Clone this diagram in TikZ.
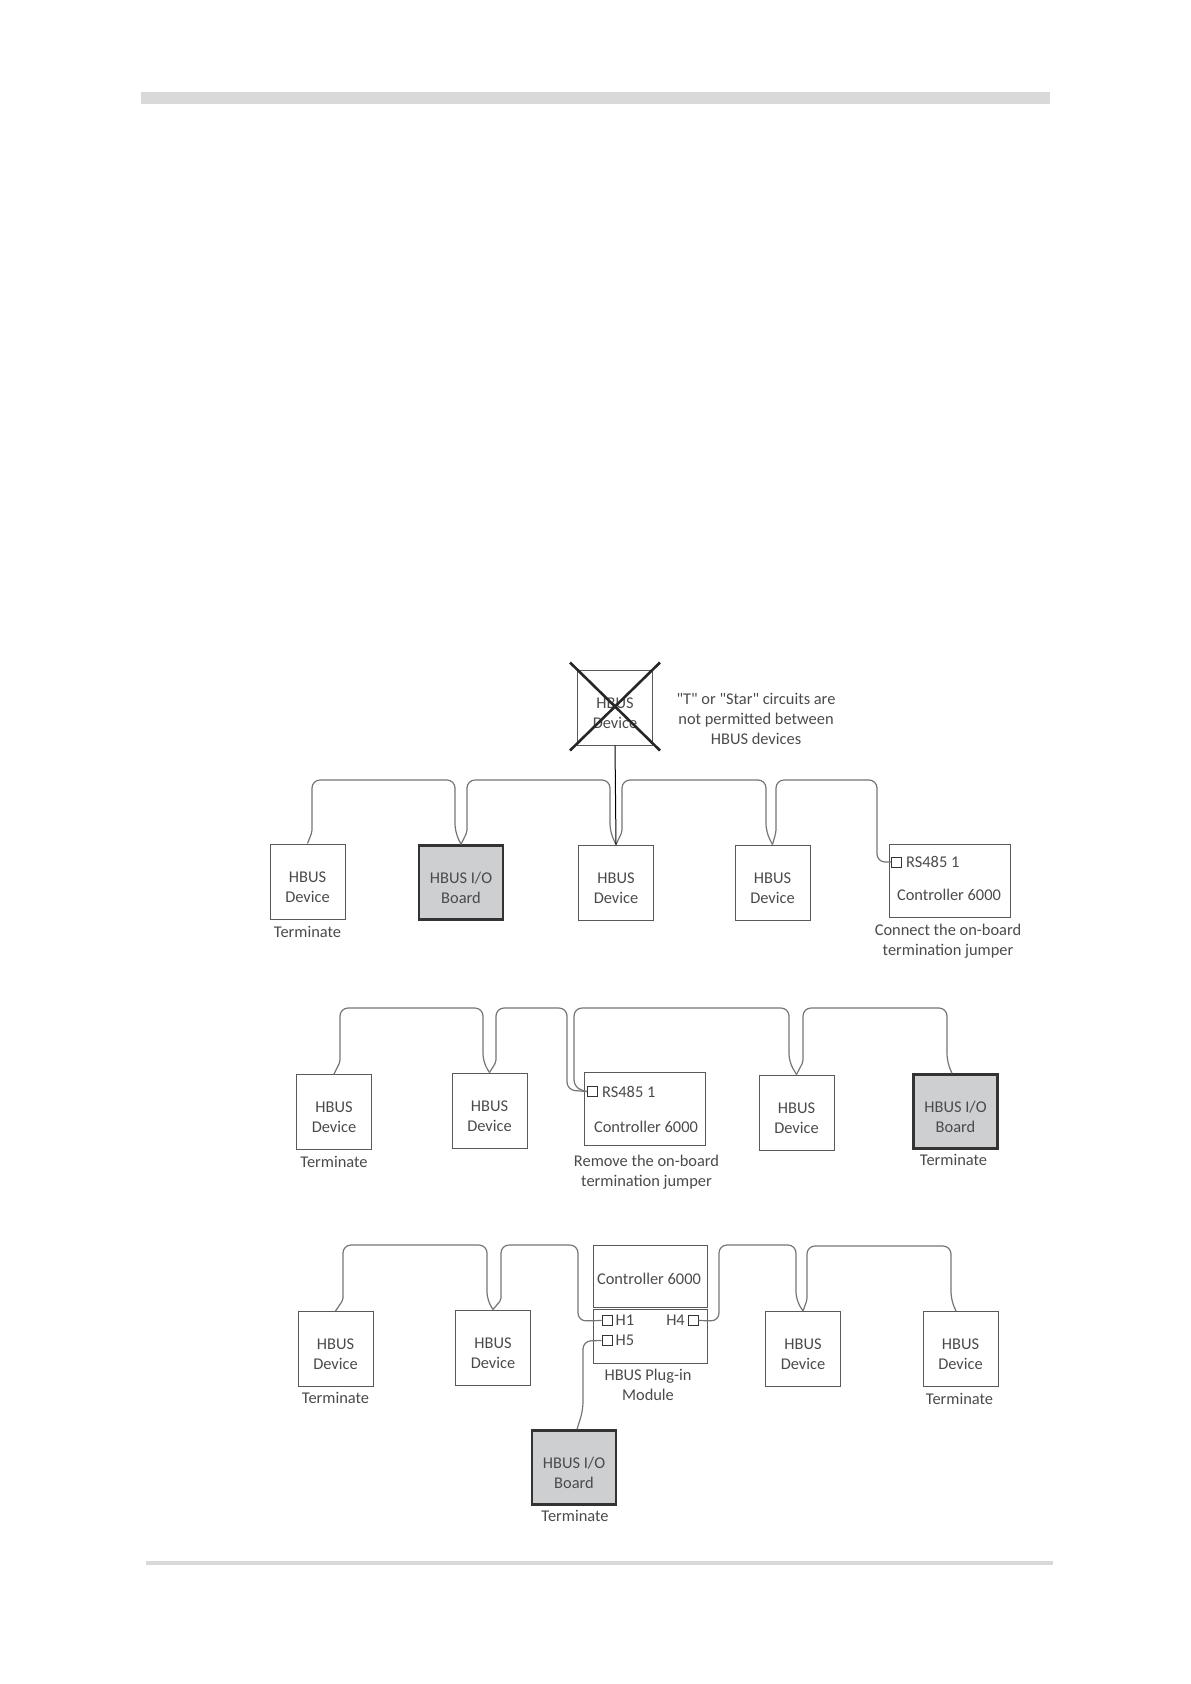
\documentclass[tikz,border=0pt]{standalone}
\usepackage{fontspec}
\setmainfont{Carlito}[Ligatures=TeXOff]
\definecolor{inkgray}{HTML}{4A4A4A}
\definecolor{wiregray}{HTML}{757575}
\definecolor{boardgray}{HTML}{CDCFD1}
\definecolor{bargray}{HTML}{D9D9D9}
\newcommand{\boxtext}[2]{\rule{0pt}{22pt}#1\\#2}
\tikzset{
	lbl/.style={align=center, inner sep=0pt, text=inkgray, font=\fontsize{16.4}{20}\selectfont},
	boxed/.style={lbl, draw=black!65, line width=1pt},
	devbox/.style={boxed, minimum width=75pt, minimum height=75pt},
	ioboard/.style={boxed, fill=boardgray, draw=black!80, line width=2.4pt, minimum width=84pt, minimum height=74pt},
	ctrlbox/.style={draw=black!65, line width=1pt, inner sep=0pt, minimum width=121pt, minimum height=73pt},
	modbox/.style={draw=black!65, line width=1pt, inner sep=0pt, minimum width=114pt},
	port/.style={draw=black!80, fill=white, line width=1pt, inner sep=0pt, minimum size=10pt},
	wire/.style={draw=wiregray, line width=1.2pt, rounded corners=8pt},
	kink/.style={rounded corners=2pt},
	arc/.style={rounded corners=8pt},
	bar/.style={fill=bargray, draw=none}
}
\begin{document}
\begin{tikzpicture}[x=1pt, y=-1pt]
	\useasboundingbox (0,0) rectangle (1191,1684);
	\fill [bar] (141,92) rectangle (1050,104);
	\fill [bar] (146,1561) rectangle (1053,1565);

	% Nodes, first row
	\node [devbox] 	(a1) at (307.5,881.5)	{\boxtext{HBUS}{Device}};
	\node [ioboard] (b1) [right of=a1, node distance=153.5pt, yshift=-1pt] {\boxtext{HBUS I/O}{Board}};
	\node [devbox] 	(c1) [right of=b1, node distance=155pt]  {\boxtext{HBUS}{Device}};
	\node [devbox] 	(d1) [right of=c1, node distance=156.5pt]  {\boxtext{HBUS}{Device}};
	\node [ctrlbox] (e1) [right of=d1, node distance=177pt, yshift=2pt]  {};
	\node [devbox] 	(x1) [above of=c1, node distance=175pt, xshift=-1pt]  {\boxtext{HBUS}{Device}};
	\node [port] 	(p1) at (896.5,862) {};
	\node [lbl] 	(r1) [right of=p1, node distance=9.5pt, anchor=west] {RS485 1};
	\node [lbl] 	(n1) at (949,895) {Controller 6000};
	\node [lbl] 	(t1) [below of=a1, node distance=50.5pt] {Terminate};
	\node [lbl] 	(j1) at (948,941) {Connect the on-board\\termination jumper};
	\node [lbl] 	(s1) at (756,719) {"T" or "Star" circuits are\\not permitted between\\HBUS devices};

	% Nodes, second row
	\node [devbox] 	(a2) at (334,1112)	{\boxtext{HBUS}{Device}};
	\node [devbox] 	(b2) [right of=a2, node distance=155.5pt, yshift=1.5pt] {\boxtext{HBUS}{Device}};
	\node [ctrlbox] (c2) [right of=b2, node distance=155pt, yshift=1.5pt]  {};
	\node [devbox] 	(d2) [right of=c2, node distance=152pt, yshift=-3.5pt]  {\boxtext{HBUS}{Device}};
	\node [ioboard] (e2) [right of=d2, node distance=159pt, yshift=1pt]  {\boxtext{HBUS I/O}{Board}};
	\node [port] 	(p2) at (592.5,1091.5) {};
	\node [lbl] 	(r2) [right of=p2, node distance=9.5pt, anchor=west] {RS485 1};
	\node [lbl] 	(n2) at (646,1127) {Controller 6000};
	\node [lbl] 	(t2) [below of=a2, node distance=50pt] {Terminate};
	\node [lbl] 	(u2) [below of=e2, node distance=48.5pt, xshift=-2pt] {Terminate};
	\node [lbl] 	(j2) at (646.5,1172) {Remove the on-board\\termination jumper};

	% Nodes, third row
	\node [devbox] 	(a3) at (335.5,1349)	{\boxtext{HBUS}{Device}};
	\node [devbox] 	(b3) [right of=a3, node distance=157.5pt, yshift=1.5pt] {\boxtext{HBUS}{Device}};
	\node [ctrlbox, minimum width=114pt, minimum height=62pt] (c3) at (650,1276) {};
	\node [modbox, minimum height=54pt] (m3) [below of=c3, node distance=60pt] {};
	\node [devbox] 	(d3) at (803,1349)	{\boxtext{HBUS}{Device}};
	\node [devbox] 	(e3) [right of=d3, node distance=157.5pt] {\boxtext{HBUS}{Device}};
	\node [ioboard] (f3) at (574,1467.5)	{\boxtext{HBUS I/O}{Board}};
	\node [port] 	(h1) at (607,1320.5) {};
	\node [port] 	(h5) [below of=h1, node distance=20pt] {};
	\node [port] 	(h4) [right of=h1, node distance=86pt] {};
	\node [lbl] 	(r3) [right of=h1, node distance=8.5pt, anchor=west] {H1};
	\node [lbl] 	(r5) [right of=h5, node distance=8.5pt, anchor=west] {H5};
	\node [lbl] 	(r4) [left of=h4, node distance=8pt, anchor=east] {H4};
	\node [lbl] 	(n3) at (649,1279) {Controller 6000};
	\node [lbl] 	(j3) at (648,1384.5) {HBUS Plug-in\\Module};
	\node [lbl] 	(t3) [below of=a3, node distance=49pt] {Terminate};
	\node [lbl] 	(u3) [below of=e3, node distance=50pt, xshift=-1pt] {Terminate};
	\node [lbl] 	(v3) [below of=f3, node distance=48.5pt, xshift=1pt] {Terminate};

	% Paths, first row
	\path [wire] (a1.north) [kink] -- (312,832) [arc] -- (312,780) -- (455,780) -- (455,832) [kink] -- (b1.north);
	\path [wire] (b1.north) [kink] -- (467,832) [arc] -- (467,780) -- (610,780) -- (610,832) [kink] -- (c1.north);
	\path [wire] (c1.north) [kink] -- (622,832) [arc] -- (622,780) -- (766,780) -- (766,832) [kink] -- (d1.north);
	\path [wire] (d1.north) [kink] -- (776,832) [arc] -- (776,780) -- (877,780) -- (877,862) -- (p1.west);
	\draw [draw=black, line width=1pt] (x1.south) -- (c1.north);
	\draw [black!85, line width=2.6pt] ([shift={(-7pt,-5pt)}]x1.south west) -- ([shift={(7pt,7pt)}]x1.north east);
	\draw [black!85, line width=2.6pt] ([shift={(-7pt,7pt)}]x1.north west) -- ([shift={(7pt,-5pt)}]x1.south east);

	% Paths, second row
	\path [wire] (a2.north) [kink] -- (340,1062) [arc] -- (340,1008) -- (483,1008) -- (483,1062) [kink] -- (b2.north);
	\path [wire] (b2.north) [kink] -- (496,1062) [arc] -- (496,1008) -- (567,1008) -- (567,1090) -- (p2.west);
	\path [wire] (p2.west) -- (574,1088) -- (574,1008) -- (789,1008) -- (789,1062) [kink] -- (d2.north);
	\path [wire] (d2.north) [kink] -- (803,1062) [arc] -- (803,1008) -- (947,1008) -- (947,1062) [kink] -- ([xshift=-3.5pt]e2.north);

	% Paths, third row
	\path [wire] (a3.north) [kink] -- (343,1300) [arc] -- (343,1245) -- (487,1245) -- (487,1300) [kink] -- (b3.north);
	\path [wire] (b3.north) [kink] -- (501,1300) [arc] -- (501,1245) -- (578,1245) -- (578,1321) -- (h1.west);
	\path [wire] (h4.east) -- (719,1321) -- (719,1245) -- (796,1245) -- (796,1300) [kink] -- (d3.north);
	\path [wire] (d3.north) [kink] -- (807,1300) [arc] -- (807,1246) -- (951,1246) -- (951,1300) [kink] -- ([xshift=-4.5pt]e3.north);
	\path [wire] (h5.west) -- (583,1341) -- (583,1410) -- ([xshift=3pt]f3.north);
\end{tikzpicture}
\end{document}
